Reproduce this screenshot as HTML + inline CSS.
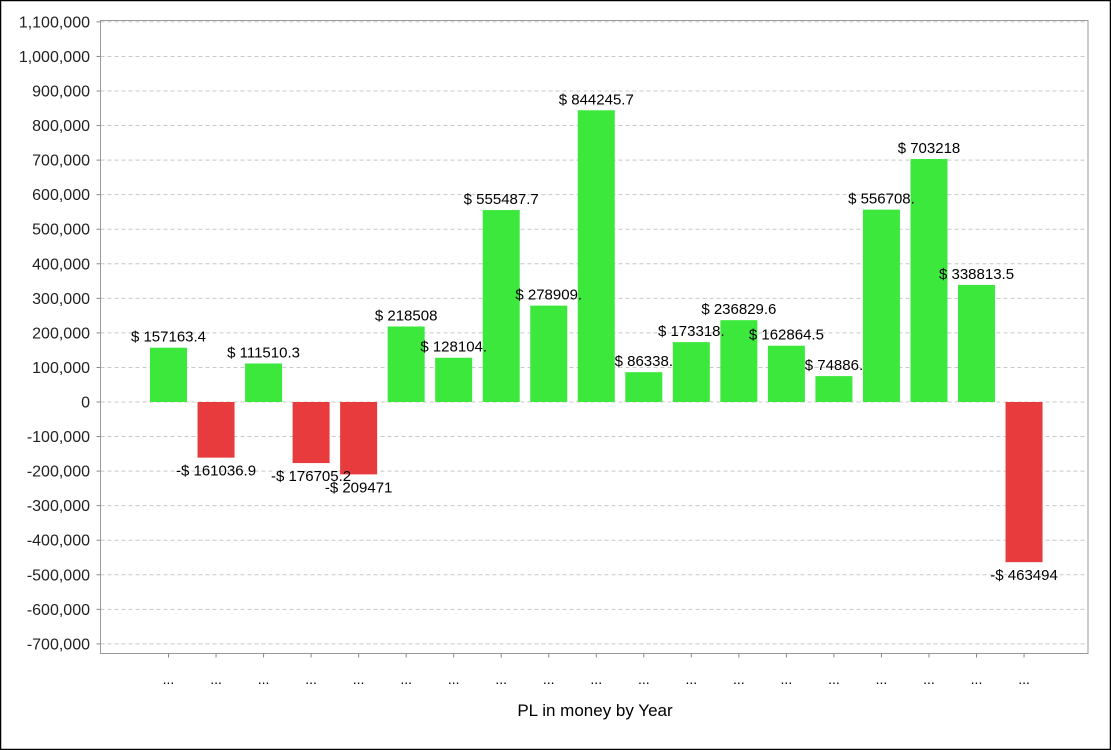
<!DOCTYPE html>
<html><head><meta charset="utf-8"><style>
body{margin:0;background:#fff}
svg{display:block;font-family:"Liberation Sans",Arial,sans-serif}
</style></head><body>
<svg id="s" width="1111" height="750" xmlns="http://www.w3.org/2000/svg">
<rect x="0.5" y="0.5" width="1110" height="749" fill="#fff" stroke="#000" stroke-width="1.5"/>
<g id="g"></g>
</svg>
<script>
(function(){
var g=document.getElementById('g');var h='',lab='';
function Y(v){return 402-v*3.4556e-4;}
var L=100.5,R=1088,T=20.5,B=653.5;
for(var v=1100000;v>=-700000;v-=100000){var y=Y(v);
h+='<line x1="'+L+'" x2="'+R+'" y1="'+y+'" y2="'+y+'" stroke="#c8c8c8" stroke-dasharray="4,3"/>';
h+='<line x1="'+(L-4)+'" x2="'+L+'" y1="'+y+'" y2="'+y+'" stroke="#888"/>';
h+='<text x="90" y="'+(y+5.5)+'" text-anchor="end" font-size="16" fill="#222">'+v.toLocaleString('en-US')+'</text>';}
h+='<rect x="'+L+'" y="'+T+'" width="'+(R-L)+'" height="'+(B-T)+'" fill="none" stroke="#999"/>';
var d=[[157163.4,"$ 157163.4"],[-161036.9,"-$ 161036.9"],[111510.3,"$ 111510.3"],[-176705.2,"-$ 176705.2"],[-209471,"-$ 209471"],[218508,"$ 218508"],[128104,"$ 128104."],[555487.7,"$ 555487.7"],[278909,"$ 278909."],[844245.7,"$ 844245.7"],[86338,"$ 86338."],[173318,"$ 173318."],[236829.6,"$ 236829.6"],[162864.5,"$ 162864.5"],[74886,"$ 74886."],[556708,"$ 556708."],[703218,"$ 703218"],[338813.5,"$ 338813.5"],[-463494,"-$ 463494"]];
for(var i=0;i<d.length;i++){var cx=168.5+i*47.53,val=d[i][0],y0=Y(0),y1=Y(val);
var yy=Math.min(y0,y1),hh=Math.abs(y1-y0);
h+='<rect x="'+(cx-18.5)+'" y="'+yy+'" width="37" height="'+hh+'" fill="'+(val>=0?'#3de83d':'#e83b3e')+'"/>';
var ty=val>=0?y1-6:y1+18;
lab+='<text x="'+cx+'" y="'+ty+'" text-anchor="middle" font-size="15" fill="#000">'+d[i][1]+'</text>';
h+='<line x1="'+cx+'" x2="'+cx+'" y1="'+B+'" y2="'+(B+4)+'" stroke="#888"/>';
h+='<text x="'+cx+'" y="684" text-anchor="middle" font-size="14" fill="#000">...</text>';}
h+=lab;
h+='<text x="595" y="716" text-anchor="middle" font-size="17" fill="#000">PL in money by Year</text>';
g.innerHTML=h;
})();
</script>
</body></html>
